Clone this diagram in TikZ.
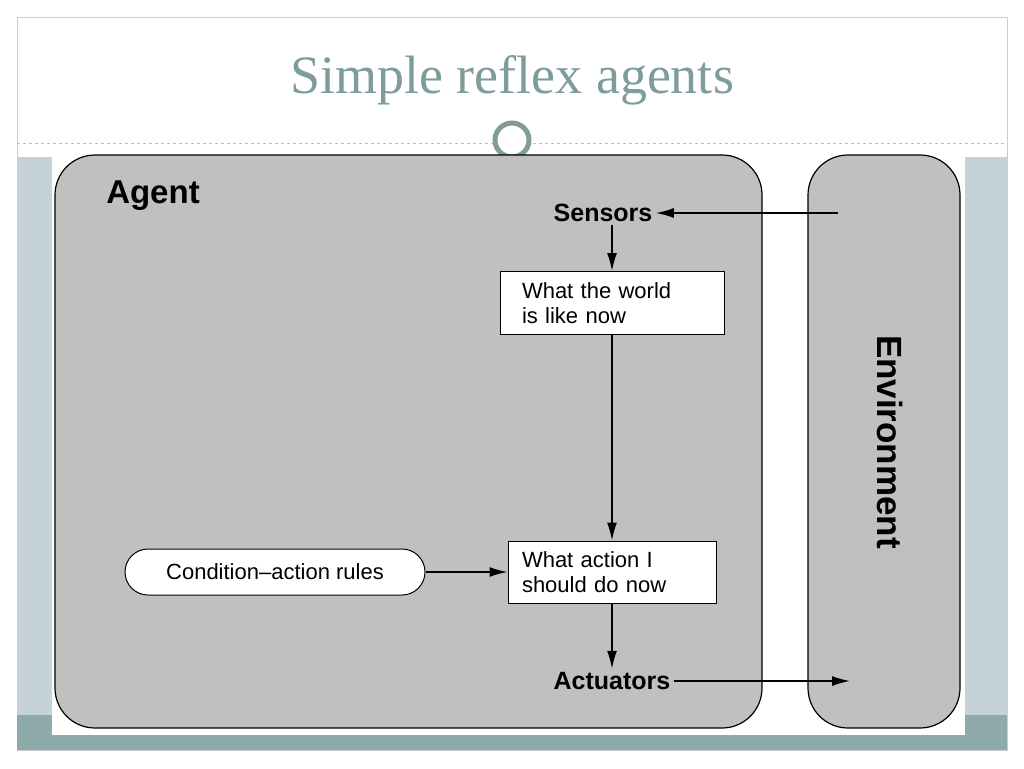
\documentclass[tikz,border=0pt]{standalone}
\usepackage{fontspec}
\setmainfont{Liberation Sans}
\newfontfamily\titlefont{Liberation Serif}
\usetikzlibrary{arrows.meta}
\definecolor{slideteal}{HTML}{7F9C9C}
\definecolor{sidepanel}{HTML}{C5D3D8}
\definecolor{bottomband}{HTML}{8FAAAA}
\definecolor{agentgray}{HTML}{C0C0C0}
\tikzset{
  flow/.style={-{Latex[length=18pt,width=10pt]}, line width=1.6pt},
  statebox/.style={draw, line width=1pt, fill=white, align=left, inner sep=4pt, font=\fontsize{22}{25}\selectfont},
  label/.style={font=\bfseries\fontsize{25}{28}\selectfont}
}
\begin{document}
\begin{tikzpicture}[x=1pt,y=-1pt]
  \useasboundingbox (0,0) rectangle (1024,768);
  \fill[white] (0,0) rectangle (1024,768);
  % slide frame
  \draw[gray!40] (17,17) rectangle (1007,750);
  \node[text=slideteal, font=\titlefont\fontsize{54}{58}\selectfont] (title) at (512,80) {Simple reflex agents};
  \draw[dashed, gray!50] (17,143) -- (1007,143);
  \fill[sidepanel] (17,157) rectangle (52,715);
  \fill[sidepanel] (965,157) rectangle (1007,715);
  \fill[bottomband] (17,715) rectangle (1007,750);
  \fill[white] (52,157) rectangle (965,735);
  \draw[slideteal, line width=5pt, fill=white] (512,140) circle (17);

  % agent and environment
  \draw[line width=1.2pt, fill=agentgray, rounded corners=40pt] (55,155) rectangle (762,728);
  \draw[line width=1.2pt, fill=agentgray, rounded corners=40pt] (808,155) rectangle (960,728);
  \node[font=\bfseries\fontsize{33}{36}\selectfont] (agent) at (153,196) {Agent};
  \node[font=\bfseries\fontsize{35}{38}\selectfont, rotate=-90] (env) at (890,442) {Environment};

  % nodes
  \node[label] (sensors) at (603,213) {Sensors};
  \node[statebox, minimum width=224pt, minimum height=63pt, text width=180pt] (world) at (612,303) {What the world\\is like now};
  \node[statebox, minimum width=208pt, minimum height=62pt, text width=180pt] (action) at (612,572) {What action I\\should do now};
  \node[draw, line width=1pt, fill=white, rounded corners=23pt, minimum width=300pt, minimum height=46pt,
        font=\fontsize{22}{25}\selectfont] (rules) at (275,572) {Condition--action rules};
  \node[label] (actuators) at (612,681) {Actuators};
  \coordinate (envin) at (838,213);
  \coordinate (envout) at (850,681);

  % connectors
  \draw[flow] (envin) -- (sensors.east);
  \draw[flow] (sensors.south -| world.north) -- (world.north);
  \draw[flow] (world.south) -- (action.north);
  \draw[flow] (rules.east) -- (action.west);
  \draw[flow] (action.south) -- (actuators.north);
  \draw[flow] (actuators.east) -- (envout);
\end{tikzpicture}
\end{document}
